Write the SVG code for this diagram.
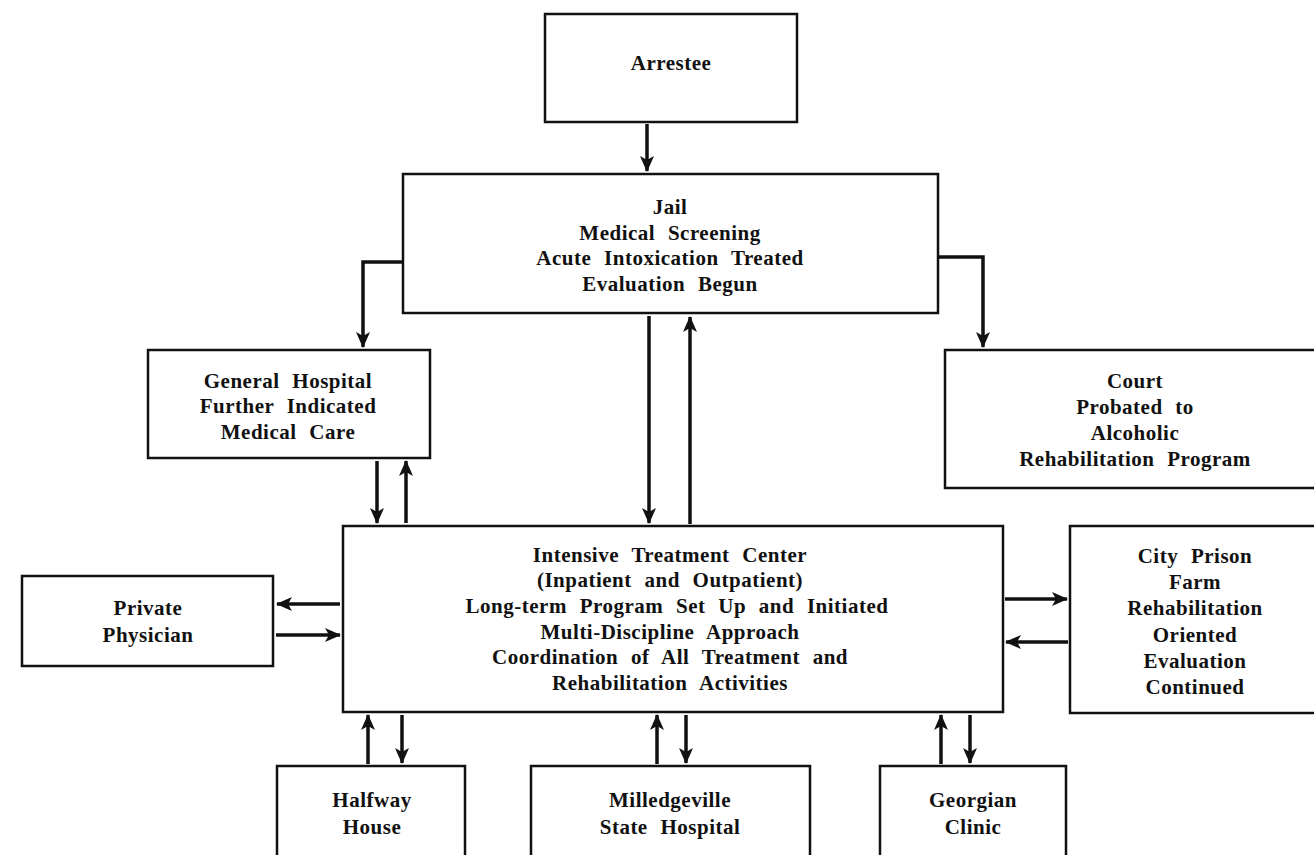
<svg xmlns="http://www.w3.org/2000/svg" width="1314" height="855" viewBox="0 0 1314 855">
<defs>
<style>
.box{fill:none;stroke:#111;stroke-width:2.5}
.t{font-family:"Liberation Serif",serif;font-size:21px;font-weight:bold;fill:#111;text-anchor:middle;word-spacing:7px;letter-spacing:0.5px}
.c{fill:none;stroke:#111;stroke-width:3.5}
</style>
<marker id="ah" viewBox="0 0 16 14" refX="15" refY="7" markerWidth="16" markerHeight="14" markerUnits="userSpaceOnUse" orient="auto">
<path d="M0,0 L16,7 L0,14 L4,7 Z" fill="#111"/>
</marker>
</defs>
<rect width="1314" height="855" fill="#fff"/>
<g id="arrestee"><rect class="box" x="545" y="14" width="252" height="108"/><text class="t" x="671" y="70">Arrestee</text></g>
<g id="jail"><rect class="box" x="403" y="174" width="535" height="139"/>
<text class="t" x="670" y="214">Jail</text><text class="t" x="670" y="240">Medical Screening</text><text class="t" x="670" y="265">Acute Intoxication Treated</text><text class="t" x="670" y="291">Evaluation Begun</text></g>
<g id="general-hospital"><rect class="box" x="148" y="350" width="282" height="108"/>
<text class="t" x="288" y="388">General Hospital</text><text class="t" x="288" y="413">Further Indicated</text><text class="t" x="288" y="439">Medical Care</text></g>
<g id="court"><rect class="box" x="945" y="350" width="375" height="138"/>
<text class="t" x="1135" y="388">Court</text><text class="t" x="1135" y="414">Probated to</text><text class="t" x="1135" y="440">Alcoholic</text><text class="t" x="1135" y="466">Rehabilitation Program</text></g>
<g id="itc"><rect class="box" x="343" y="526" width="660" height="186"/>
<text class="t" x="670" y="562">Intensive Treatment Center</text><text class="t" x="670" y="587">(Inpatient and Outpatient)</text><text class="t" x="677" y="613">Long-term Program Set Up and Initiated</text><text class="t" x="670" y="639">Multi-Discipline Approach</text><text class="t" x="670" y="664">Coordination of All Treatment and</text><text class="t" x="670" y="690">Rehabilitation Activities</text></g>
<g id="private-physician"><rect class="box" x="22" y="576" width="251" height="90"/>
<text class="t" x="148" y="615">Private</text><text class="t" x="148" y="642">Physician</text></g>
<g id="city-prison"><rect class="box" x="1070" y="526" width="250" height="187"/>
<text class="t" x="1195" y="563">City Prison</text><text class="t" x="1195" y="589">Farm</text><text class="t" x="1195" y="615">Rehabilitation</text><text class="t" x="1195" y="642">Oriented</text><text class="t" x="1195" y="668">Evaluation</text><text class="t" x="1195" y="694">Continued</text></g>
<g id="halfway-house"><rect class="box" x="277" y="766" width="188" height="100"/>
<text class="t" x="372" y="807">Halfway</text><text class="t" x="372" y="834">House</text></g>
<g id="milledgeville"><rect class="box" x="531" y="766" width="279" height="100"/>
<text class="t" x="670" y="807">Milledgeville</text><text class="t" x="670" y="834">State Hospital</text></g>
<g id="georgian-clinic"><rect class="box" x="880" y="766" width="186" height="100"/>
<text class="t" x="973" y="807">Georgian</text><text class="t" x="973" y="834">Clinic</text></g>
<g id="connectors">
<path class="c" d="M647,124 V171" marker-end="url(#ah)"/>
<path class="c" d="M403,262 H363 V347" marker-end="url(#ah)"/>
<path class="c" d="M938,257 H983 V347" marker-end="url(#ah)"/>
<path class="c" d="M649,316 V523" marker-end="url(#ah)"/>
<path class="c" d="M690,524 V317" marker-end="url(#ah)"/>
<path class="c" d="M377,461 V523" marker-end="url(#ah)"/>
<path class="c" d="M406,523 V461" marker-end="url(#ah)"/>
<path class="c" d="M340,604 H277" marker-end="url(#ah)"/>
<path class="c" d="M276,635 H340" marker-end="url(#ah)"/>
<path class="c" d="M1005,599 H1067" marker-end="url(#ah)"/>
<path class="c" d="M1068,642 H1006" marker-end="url(#ah)"/>
<path class="c" d="M368,764 V715" marker-end="url(#ah)"/>
<path class="c" d="M402,715 V763" marker-end="url(#ah)"/>
<path class="c" d="M657,764 V715" marker-end="url(#ah)"/>
<path class="c" d="M686,715 V763" marker-end="url(#ah)"/>
<path class="c" d="M941,764 V715" marker-end="url(#ah)"/>
<path class="c" d="M970,715 V763" marker-end="url(#ah)"/>
</g>
</svg>
